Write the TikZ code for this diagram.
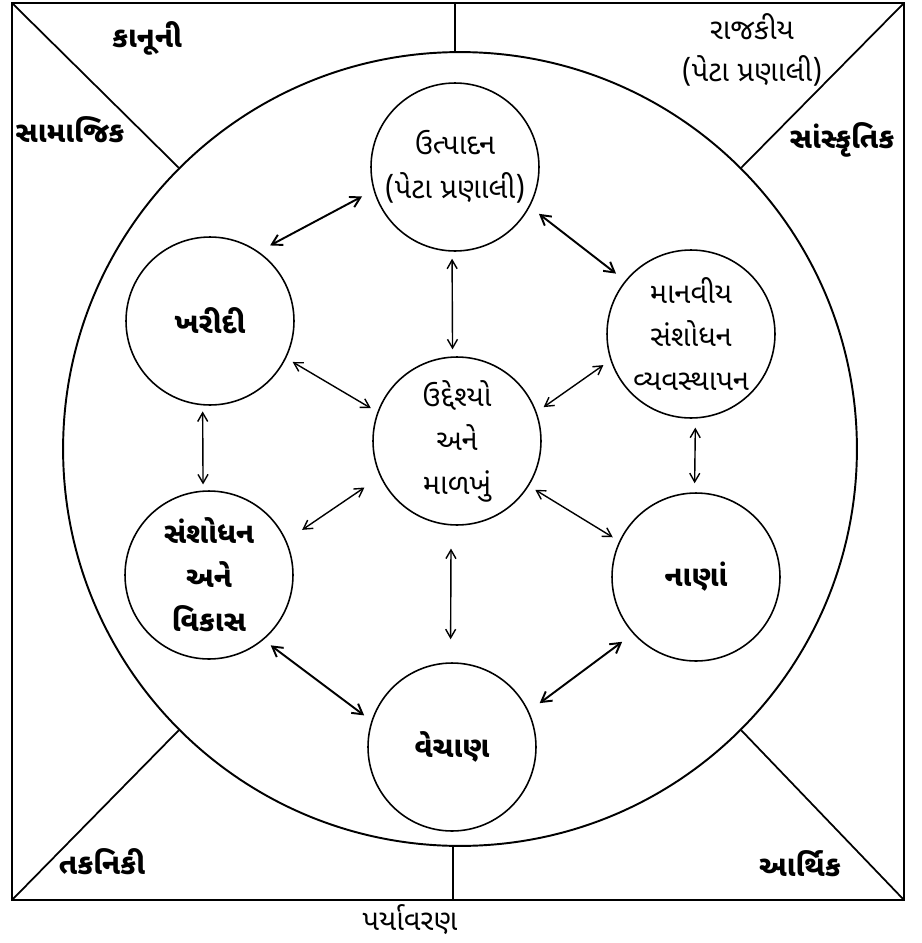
\documentclass[tikz,border=0pt]{standalone}
\usepackage{fontspec}
\setmainfont{Noto Sans Gujarati UI}[Script=Gujarati]
\usetikzlibrary{arrows.meta}
\tikzset{
	>={Straight Barb[angle=60:2.3mm]}, % open arrow heads
	unit/.style={circle, draw, line width=0.9pt, minimum size=3.36cm, inner sep=0pt, align=center, font=\fontsize{16.5}{25}\selectfont}, % the sub-system circles
	heavy/.style={font=\fontsize{16.5}{25}\selectfont\bfseries}, % darker labels
	label text/.style={align=center, font=\fontsize{16.5}{24}\selectfont}, % texts round the circle
	strong/.style={<->, line width=1.1pt},
	weak/.style={>={Straight Barb[angle=60:2mm]}, <->, line width=0.8pt},
	cut/.style={shorten <=#1, shorten >=#1}, % keeps the arrows off the circles
}

\begin{document}
\begin{tikzpicture}[x=0.02cm, y=-0.02cm]
	\useasboundingbox (0,0) rectangle (921,943);

	% the environment
	\coordinate (tl) at (12,3);
	\coordinate (tr) at (904,3);
	\coordinate (bl) at (12,900);
	\coordinate (br) at (904,900);
	\coordinate (topmid) at (455,3);
	\coordinate (botmid) at (453,900);
	\draw[line width=1.4pt] (tl) rectangle (br);
	\node[circle, draw, line width=1.1pt, minimum size=15.88cm] (env) at (460,449) {};
	\draw[line width=1pt] (tl) -- (env.135)
		(tr) -- (env.45)
		(bl) -- (env.225)
		(br) -- (env.-45)
		(topmid) -- (topmid |- env.north)
		(botmid) -- (botmid |- env.south);

	\node[label text, heavy] (legal) at (147,38) {કાનૂની};
	\node[label text, heavy] (social) at (70,130) {સામાજિક};
	\node[label text] (politics) at (752,50) {રાજકીય\\(પેટા પ્રણાલી)};
	\node[label text, heavy] (culture) at (842,140) {સાંસ્કૃતિક};
	\node[label text, heavy] (tech) at (102,862) {તકનિકી};
	\node[label text, heavy] (economy) at (800,864) {આર્થિક};
	\node[label text] (envname) at (410,920) {પર્યાવરણ};

	% the sub-systems
	\node[unit] (prod) at (455,167) {ઉત્પાદન\\(પેટા પ્રણાલી)};
	\node[unit, heavy] (buy) at (210,321) {ખરીદી};
	\node[unit] (hr) at (691,334) {માનવીય\\સંશોધન\\વ્યવસ્થાપન};
	\node[unit] (goal) at (457,441) {ઉદ્દેશ્યો\\અને\\માળખું};
	\node[unit, heavy] (rd) at (209,575) {સંશોધન\\અને\\વિકાસ};
	\node[unit, heavy] (fin) at (696,577) {નાણાં};
	\node[unit, heavy] (sale) at (452,747) {વેચાણ};

	\draw[strong, cut=0.26cm] (prod.196) -- (buy.55);
	\draw[strong, cut=0.23cm] (prod.-28) -- (hr.141);
	\draw[weak, cut=0.14cm] (prod.268) -- (goal.93);
	\draw[weak, cut=0.15cm] (buy.-26) -- (goal.160);
	\draw[weak, cut=0.17cm] (hr.198) -- (goal.20);
	\draw[weak, cut=0.12cm] (buy.265) -- (rd.94);
	\draw[weak, cut=0.18cm] (hr.-87) -- (fin.91);
	\draw[weak, cut=0.38cm] (rd.24) -- (goal.205);
	\draw[weak, cut=0.15cm] (goal.-32) -- (fin.155);
	\draw[weak, cut=0.46cm] (goal.266) -- (sale.91);
	\draw[strong, cut=0.18cm] (rd.-50) -- (sale.162);
	\draw[strong, cut=0.27cm] (fin.222) -- (sale.25);
\end{tikzpicture}
\end{document}
